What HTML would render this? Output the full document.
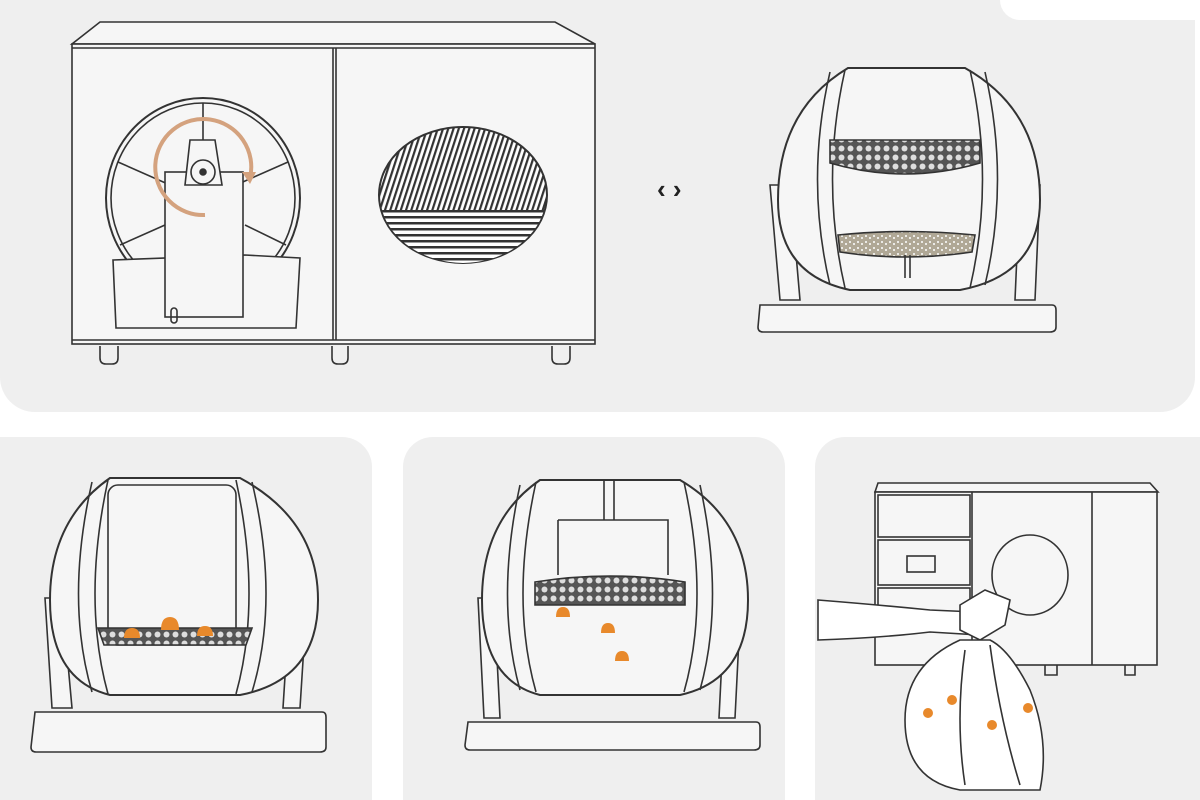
<!DOCTYPE html>
<html><head><style>
html,body{margin:0;padding:0;background:#fff;width:1200px;height:800px;overflow:hidden}
svg{display:block}
</style></head><body>
<svg width="1200" height="800" viewBox="0 0 1200 800" xmlns="http://www.w3.org/2000/svg">
<defs>
<pattern id="diag" width="5" height="5" patternUnits="userSpaceOnUse" patternTransform="rotate(18)"><rect width="5" height="5" fill="#fff"/><rect width="2.2" height="5" fill="#333"/></pattern>
<pattern id="horiz" width="6" height="6" patternUnits="userSpaceOnUse"><rect width="6" height="6" fill="#fff"/><rect width="6" height="2.5" fill="#333"/></pattern>
<pattern id="mesh" width="9" height="9" patternUnits="userSpaceOnUse"><rect width="9" height="9" fill="#555"/><circle cx="4.5" cy="4.5" r="3" fill="#ddd"/></pattern>
<pattern id="litter" width="8" height="6" patternUnits="userSpaceOnUse"><rect width="8" height="6" fill="#b0a896"/><circle cx="2" cy="2" r="1" fill="#fff"/><circle cx="6" cy="4" r="1" fill="#fff"/></pattern>
</defs>
<rect x="0" y="-40" width="1195" height="452" rx="35" fill="#efefef"/>
<rect x="1000" y="-30" width="260" height="50" rx="20" fill="#fff"/>
<rect x="-30" y="437" width="402" height="400" rx="30" fill="#efefef"/>
<rect x="403" y="437" width="382" height="400" rx="30" fill="#efefef"/>
<rect x="815" y="437" width="420" height="400" rx="30" fill="#efefef"/>

<g fill="none" stroke="#333" stroke-width="1.6">
<path d="M100 22 L555 22 L595 44 L72 44 Z" fill="#f6f6f6"/>
<rect x="72" y="44" width="523" height="300" fill="#f6f6f6"/>
<line x1="72" y1="48" x2="595" y2="48"/>
<line x1="333" y1="48" x2="333" y2="340"/>
<line x1="336" y1="48" x2="336" y2="340"/>
<line x1="72" y1="340" x2="595" y2="340"/>
<path d="M100 346 v12 q0 6 6 6 h6 q6 0 6 -6 v-12"/>
<path d="M332 346 v12 q0 6 6 6 h4 q6 0 6 -6 v-12"/>
<path d="M552 346 v12 q0 6 6 6 h6 q6 0 6 -6 v-12"/>
<ellipse cx="203" cy="198" rx="97" ry="100" stroke-width="2"/>
<ellipse cx="203" cy="198" rx="92" ry="95"/>
<line x1="203" y1="103" x2="203" y2="150"/><line x1="118" y1="162" x2="170" y2="185"/><line x1="288" y1="162" x2="236" y2="185"/>
<line x1="120" y1="245" x2="165" y2="225"/><line x1="286" y1="245" x2="245" y2="225"/>
<path d="M113 260 L245 255 L300 258 L296 328 L116 328 Z" fill="#f6f6f6"/>
<rect x="165" y="172" width="78" height="145" fill="#f6f6f6"/>
<path d="M190 140 L215 140 L222 185 L185 185 Z" fill="#f6f6f6"/>
<circle cx="203" cy="172" r="12" fill="#f6f6f6"/>
<circle cx="203" cy="172" r="3" fill="#333"/>
<rect x="171" y="308" width="6" height="15" rx="3"/>
</g>
<path d="M205 215 A48 48 0 1 1 250 178" fill="none" stroke="#d4a27e" stroke-width="4"/>
<path d="M242 172 L256 172 L250 184 Z" fill="#d4a27e"/>
<ellipse cx="463" cy="195" rx="84" ry="68" fill="url(#diag)" stroke="#333" stroke-width="2"/>
<path d="M382 210 L544 210 A84 68 0 0 1 463 263 A84 68 0 0 1 382 210Z" fill="url(#horiz)"/>
<text x="657" y="198" font-family="Liberation Sans,sans-serif" font-size="26" font-weight="bold" fill="#222">‹ ›</text>

<g fill="none" stroke="#333" stroke-width="1.6">
<path d="M760 305 L1052 305 Q1056 305 1056 310 L1056 327 Q1056 332 1050 332 L763 332 Q758 332 758 327 Z" fill="#f6f6f6"/>
<path d="M770 185 L790 185 L800 300 L780 300 Z" fill="#f6f6f6"/><path d="M1020 185 L1040 185 L1035 300 L1015 300 Z" fill="#f6f6f6"/>
<path d="M848 68 L965 68 Q1040 110 1040 200 Q1040 275 960 290 L850 290 Q778 275 778 200 Q778 110 848 68Z" fill="#f6f6f6" stroke-width="2"/>
<path d="M830 72 Q805 180 830 285"/><path d="M845 70 Q820 180 845 288"/>
<path d="M985 72 Q1010 180 985 285"/><path d="M970 70 Q995 180 970 288"/>
<path d="M830 140 L980 140 L980 163 Q905 185 830 163Z" fill="url(#mesh)"/>
<path d="M838 235 Q905 228 975 235 L972 252 Q905 262 840 252Z" fill="url(#litter)"/>
<line x1="905" y1="255" x2="905" y2="278"/><line x1="910" y1="255" x2="910" y2="278"/>
</g>

<g fill="none" stroke="#333" stroke-width="1.6">
<path d="M35 712 L322 712 Q326 712 326 717 L326 747 Q326 752 320 752 L36 752 Q31 752 31 747 Z" fill="#f6f6f6"/>
<path d="M45 598 L62 598 L72 708 L52 708 Z" fill="#f6f6f6"/><path d="M290 598 L307 598 L300 708 L283 708 Z" fill="#f6f6f6"/>
<path d="M110 478 L240 478 Q318 520 318 600 Q318 680 240 695 L110 695 Q50 680 50 600 Q50 520 110 478Z" fill="#f6f6f6" stroke-width="2"/>
<path d="M92 482 Q65 600 92 692"/><path d="M108 480 Q82 600 108 694"/>
<path d="M252 482 Q280 600 252 692"/><path d="M236 480 Q262 600 236 694"/>
<rect x="108" y="485" width="128" height="160" rx="10"/>
<path d="M98 628 L252 628 L246 645 L104 645Z" fill="url(#mesh)"/>
</g>
<g fill="#e8892b"><path d="M124 638 q0 -10 8 -10 q8 0 8 10z"/><path d="M161 630 q0 -13 9 -13 q9 0 9 13z"/><path d="M197 636 q0 -10 8 -10 q8 0 8 10z"/></g>

<g fill="none" stroke="#333" stroke-width="1.6">
<path d="M468 722 L756 722 Q760 722 760 727 L760 745 Q760 750 754 750 L470 750 Q465 750 465 745 Z" fill="#f6f6f6"/>
<path d="M478 598 L494 598 L500 718 L484 718 Z" fill="#f6f6f6"/><path d="M725 598 L741 598 L735 718 L719 718 Z" fill="#f6f6f6"/>
<path d="M540 480 L680 480 Q748 520 748 600 Q748 680 680 695 L540 695 Q482 680 482 600 Q482 520 540 480Z" fill="#f6f6f6" stroke-width="2"/>
<path d="M520 485 Q495 600 520 690"/><path d="M536 482 Q510 600 536 692"/>
<path d="M700 485 Q725 600 700 690"/><path d="M684 482 Q710 600 684 692"/>
<line x1="604" y1="480" x2="604" y2="520"/><line x1="614" y1="480" x2="614" y2="520"/>
<path d="M558 520 L668 520 L668 575"/><path d="M558 520 L558 575"/>
<path d="M535 582 Q610 570 685 582 L685 605 L535 605Z" fill="url(#mesh)"/>
</g>
<g fill="#e8892b"><path d="M556 617 q0 -10 7 -10 q7 0 7 10z"/><path d="M601 633 q0 -10 7 -10 q7 0 7 10z"/><path d="M615 661 q0 -10 7 -10 q7 0 7 10z"/></g>

<g fill="none" stroke="#333" stroke-width="1.6">
<path d="M878 483 L1150 483 L1158 492 L875 492Z" fill="#f6f6f6"/>
<rect x="875" y="492" width="282" height="173" fill="#f6f6f6"/>
<line x1="972" y1="492" x2="972" y2="665"/><line x1="1092" y1="492" x2="1092" y2="665"/>
<rect x="878" y="495" width="92" height="42"/><rect x="878" y="540" width="92" height="45"/><rect x="878" y="588" width="92" height="42"/>
<rect x="907" y="556" width="28" height="16"/>
<ellipse cx="1030" cy="575" rx="38" ry="40"/>
<path d="M1045 665 v10 h12 v-10"/><path d="M1125 665 v10 h10 v-10"/>
<path d="M818 600 Q880 605 930 610 L975 612 L980 635 L930 632 Q880 638 818 640Z" fill="#fff"/>
<path d="M960 605 L985 590 L1010 600 L1005 625 L980 640 L960 630Z" fill="#fff"/>
<path d="M960 640 Q905 665 905 720 Q905 780 960 790 L1040 790 Q1050 740 1030 690 Q1010 650 990 640Z" fill="#fff"/>
<path d="M965 650 Q955 720 965 785"/><path d="M990 645 Q1000 720 1020 785"/>
</g>
<g fill="#e8892b"><circle cx="928" cy="713" r="5"/><circle cx="952" cy="700" r="5"/><circle cx="992" cy="725" r="5"/><circle cx="1028" cy="708" r="5"/></g>
</svg>
</body></html>
